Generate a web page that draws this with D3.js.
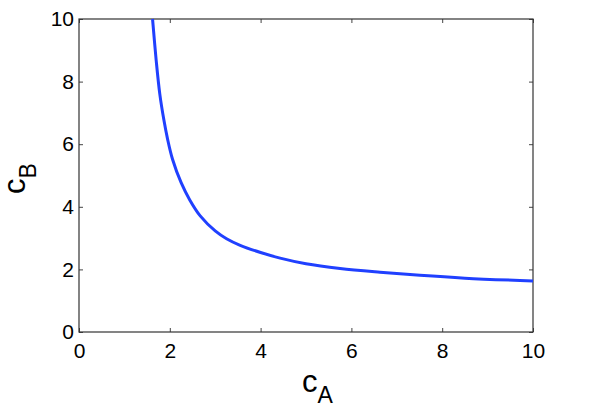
<!DOCTYPE html>
<html>
<head>
<meta charset="utf-8">
<script src="https://cdn.jsdelivr.net/npm/d3@7"></script>
<style>
  body { margin: 0; background: #fff; }
  text { font-family: "Liberation Sans", Arial, sans-serif; }
</style>
</head>
<body>
<div id="chart"></div>
<script>
  // values
  var cA = [1.62, 1.7, 1.78, 1.87, 1.95, 2.06, 2.25, 2.44, 2.67, 3.0, 3.25, 3.55, 4.0, 4.43, 5.0, 5.75, 6.63, 7.51, 8.5, 10];
  var cB = [10, 8.68, 7.6, 6.77, 6.17, 5.52, 4.77, 4.22, 3.71, 3.23, 2.98, 2.77, 2.54, 2.36, 2.18, 2.03, 1.91, 1.81, 1.72, 1.63];
  var xTicks = [0, 2, 4, 6, 8, 10];
  var yTicks = [0, 2, 4, 6, 8, 10];

  var margin = {top: 19, right: 71, bottom: 81, left: 79},
      width = 604 - margin.left - margin.right,
      height = 413 - margin.top - margin.bottom;

  var svg = d3.select("#chart")
    .append("svg")
      .attr("width", 604)
      .attr("height", 413)
    .append("g")
      .attr("transform", "translate(" + margin.left + "," + margin.top + ")");

  var x = d3.scaleLinear().domain([0, 10]).range([0, width]);
  var y = d3.scaleLinear().domain([0, 10]).range([height, 0]);

  // axes with inward ticks, mirrored on top and right
  svg.append("g")
    .attr("transform", "translate(0," + height + ")")
    .call(d3.axisBottom(x).tickValues(xTicks).tickSizeInner(-4).tickSizeOuter(0).tickPadding(11));
  svg.append("g")
    .call(d3.axisLeft(y).tickValues(yTicks).tickSizeInner(-4).tickSizeOuter(0).tickPadding(5));
  svg.append("g")
    .call(d3.axisTop(x).tickValues(xTicks).tickSizeInner(-4).tickSizeOuter(0).tickFormat(""));
  svg.append("g")
    .attr("transform", "translate(" + width + ",0)")
    .call(d3.axisRight(y).tickValues(yTicks).tickSizeInner(-4).tickSizeOuter(0).tickFormat(""));

  svg.selectAll(".domain").remove();
  svg.selectAll(".tick line").attr("stroke", "#444");
  svg.selectAll(".tick text").attr("fill", "#000").style("font-size", "21px");

  svg.append("rect")
    .attr("width", width)
    .attr("height", height)
    .attr("fill", "none")
    .attr("stroke", "#333")
    .attr("stroke-width", 1.2);

  var pts = cA.map(function(d, i) { return [d, cB[i]]; });
  var line = d3.line()
    .x(function(d) { return x(d[0]); })
    .y(function(d) { return y(d[1]); })
    .curve(d3.curveCatmullRom.alpha(0.5));

  svg.append("path")
    .datum(pts)
    .attr("d", line)
    .attr("fill", "none")
    .attr("stroke", "#2040ff")
    .attr("stroke-width", 3);

  // axis labels
  var xl = svg.append("text")
    .attr("x", 223)
    .attr("y", 373)
    .style("font-size", "31px")
    .text("c");
  xl.append("tspan").attr("dy", 11).style("font-size", "23px").text("A");

  var yl = svg.append("text")
    .attr("transform", "translate(-54,175) rotate(-90)")
    .style("font-size", "31px")
    .text("c");
  yl.append("tspan").attr("dy", 11).style("font-size", "23px").text("B");
</script>
</body>
</html>
